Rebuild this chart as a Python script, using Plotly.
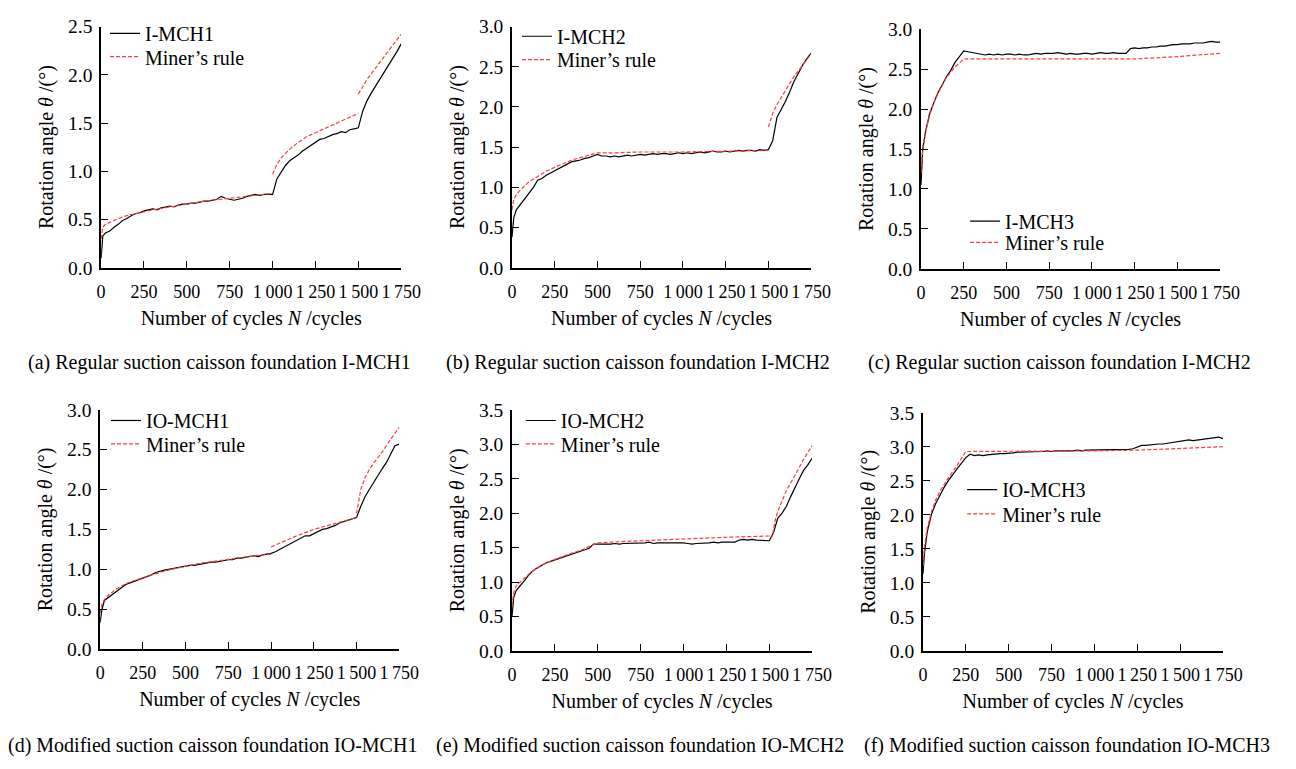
import plotly.graph_objects as go

W, H = 1296, 769
FONT = "Liberation Serif"

# ---- common cycle grid for measured series ----
N_GRID = [0, 5, 10] + list(range(25, 1751, 25))

# ---- measured rotation angles (deg) ----
I_MCH1 = [0.10, 0.28, 0.33,
          0.36, 0.38, 0.42, 0.45, 0.49, 0.51, 0.54, 0.56, 0.57, 0.59,
          0.60, 0.61, 0.60, 0.62, 0.63, 0.64, 0.63, 0.65, 0.66, 0.66,
          0.67, 0.67, 0.68, 0.69, 0.69, 0.70, 0.71, 0.74, 0.72, 0.71,
          0.70, 0.71, 0.72, 0.74, 0.75, 0.76, 0.75, 0.76, 0.76, 0.76,
          0.92, 0.99, 1.06, 1.11, 1.14, 1.17, 1.21, 1.24, 1.27, 1.30,
          1.33, 1.34, 1.36, 1.38, 1.39, 1.41, 1.40, 1.43, 1.44, 1.45,
          1.62, 1.73, 1.81, 1.88, 1.96, 2.03, 2.10, 2.16, 2.24, 2.32]
I_MCH2 = [0.38, 0.55, 0.62,
          0.72, 0.79, 0.86, 0.93, 1.00, 1.09, 1.11, 1.15, 1.18, 1.21,
          1.24, 1.27, 1.29, 1.32, 1.33, 1.34, 1.36, 1.37, 1.39, 1.41,
          1.39, 1.39, 1.38, 1.39, 1.38, 1.39, 1.40, 1.39, 1.40, 1.41,
          1.40, 1.41, 1.42, 1.41, 1.42, 1.42, 1.41, 1.42, 1.43, 1.42,
          1.43, 1.42, 1.43, 1.44, 1.43, 1.44, 1.45, 1.44, 1.44, 1.45,
          1.44, 1.45, 1.46, 1.45, 1.46, 1.46, 1.45, 1.47, 1.46, 1.47,
          1.58, 1.87, 1.97, 2.07, 2.19, 2.32, 2.42, 2.52, 2.60, 2.67]
I_MCH3 = [1.05, 1.30, 1.49,
          1.70, 1.94, 2.08, 2.21, 2.31, 2.41, 2.49, 2.59, 2.66, 2.73,
          2.72, 2.71, 2.70, 2.69, 2.68, 2.69, 2.68, 2.69, 2.68, 2.69,
          2.69, 2.68, 2.69, 2.68, 2.68, 2.69, 2.70, 2.69, 2.70, 2.70,
          2.70, 2.71, 2.70, 2.69, 2.70, 2.69, 2.69, 2.70, 2.70, 2.69,
          2.70, 2.71, 2.70, 2.70, 2.71, 2.70, 2.70, 2.70, 2.76, 2.77,
          2.76, 2.77, 2.77, 2.78, 2.78, 2.79, 2.79, 2.80, 2.81, 2.81,
          2.82, 2.82, 2.82, 2.83, 2.83, 2.83, 2.84, 2.85, 2.84, 2.84]
IO_MCH1 = [0.33, 0.44, 0.49,
           0.61, 0.65, 0.69, 0.73, 0.77, 0.81, 0.83, 0.85, 0.87, 0.89,
           0.91, 0.93, 0.96, 0.98, 0.99, 1.00, 1.01, 1.02, 1.03, 1.04,
           1.05, 1.05, 1.06, 1.07, 1.08, 1.09, 1.09, 1.10, 1.11, 1.12,
           1.12, 1.14, 1.14, 1.15, 1.16, 1.17, 1.16, 1.18, 1.19, 1.20,
           1.22, 1.25, 1.28, 1.30, 1.33, 1.36, 1.39, 1.42, 1.42, 1.45,
           1.48, 1.50, 1.51, 1.53, 1.55, 1.58, 1.60, 1.62, 1.64, 1.65,
           1.79, 1.91, 2.00, 2.09, 2.17, 2.26, 2.34, 2.44, 2.55, 2.57]
IO_MCH2 = [0.50, 0.70, 0.78,
           0.88, 0.95, 1.03, 1.11, 1.17, 1.21, 1.25, 1.28, 1.30, 1.32,
           1.35, 1.37, 1.38, 1.40, 1.42, 1.44, 1.47, 1.49, 1.55, 1.55,
           1.54, 1.55, 1.55, 1.56, 1.55, 1.56, 1.56, 1.57, 1.56, 1.57,
           1.57, 1.58, 1.56, 1.57, 1.57, 1.58, 1.58, 1.57, 1.57, 1.57,
           1.56, 1.55, 1.56, 1.56, 1.57, 1.57, 1.58, 1.57, 1.58, 1.58,
           1.59, 1.58, 1.61, 1.62, 1.61, 1.62, 1.61, 1.61, 1.60, 1.60,
           1.72, 1.93, 2.00, 2.10, 2.24, 2.38, 2.50, 2.62, 2.70, 2.80]
IO_MCH3 = [1.13, 1.30, 1.46,
           1.75, 2.01, 2.17, 2.30, 2.41, 2.51, 2.60, 2.68, 2.76, 2.84,
           2.89, 2.87, 2.88, 2.87, 2.88, 2.89, 2.89, 2.90, 2.90, 2.90,
           2.91, 2.92, 2.92, 2.92, 2.93, 2.92, 2.93, 2.93, 2.94, 2.93,
           2.94, 2.94, 2.93, 2.94, 2.94, 2.95, 2.94, 2.95, 2.95, 2.95,
           2.95, 2.96, 2.95, 2.96, 2.96, 2.95, 2.96, 2.96, 2.97, 3.00,
           3.02, 3.02, 3.03, 3.03, 3.04, 3.04, 3.05, 3.07, 3.08, 3.08,
           3.09, 3.10, 3.09, 3.10, 3.11, 3.11, 3.12, 3.13, 3.14, 3.12]

# ---- Miner's rule predictions (segments separated by None) ----
MINER1_N = [0, 5, 10, 25, 50, 100, 150, 200, 250, 300, 400, 500, 600, 700, 800, 900, 1000, None,
            1000, 1025, 1050, 1100, 1150, 1200, 1250, 1300, 1350, 1400, 1450, 1500, None,
            1500, 1525, 1550, 1600, 1650, 1700, 1750]
MINER1_T = [0.30, 0.38, 0.42, 0.45, 0.47, 0.51, 0.54, 0.56, 0.58, 0.60, 0.63, 0.66, 0.69, 0.71, 0.73, 0.75, 0.77, None,
            0.97, 1.07, 1.14, 1.23, 1.30, 1.36, 1.40, 1.44, 1.48, 1.52, 1.56, 1.60, None,
            1.80, 1.88, 1.95, 2.07, 2.19, 2.31, 2.42]
MINER2_N = [0, 5, 10, 25, 50, 100, 150, 200, 250, 300, 350, 400, 450, 500, 600, 750, 1000, 1250, 1500, None,
            1500, 1525, 1550, 1600, 1650, 1700, 1750]
MINER2_T = [0.72, 0.80, 0.85, 0.91, 0.97, 1.07, 1.14, 1.20, 1.25, 1.30, 1.34, 1.37, 1.40, 1.43, 1.43, 1.44, 1.44, 1.45, 1.46, None,
            1.75, 1.92, 2.03, 2.21, 2.38, 2.52, 2.66]
MINER3_N = [0, 5, 10, 25, 50, 75, 100, 150, 200, 250, 500, 750, 1000, 1250, 1500, 1750]
MINER3_T = [1.20, 1.38, 1.50, 1.70, 1.92, 2.08, 2.20, 2.40, 2.53, 2.63, 2.63, 2.63, 2.63, 2.63, 2.66, 2.70]
MINER4_N = [0, 5, 10, 25, 50, 100, 150, 200, 250, 300, 400, 500, 600, 700, 800, 900, 1000, None,
            1000, 1050, 1100, 1150, 1200, 1250, 1300, 1350, 1400, 1450, 1500, None,
            1500, 1525, 1550, 1575, 1600, 1650, 1700, 1750]
MINER4_T = [0.45, 0.52, 0.56, 0.62, 0.68, 0.76, 0.82, 0.86, 0.90, 0.93, 0.99, 1.04, 1.08, 1.11, 1.14, 1.17, 1.19, None,
            1.28, 1.33, 1.38, 1.42, 1.46, 1.50, 1.53, 1.56, 1.59, 1.62, 1.65, None,
            1.70, 2.00, 2.15, 2.25, 2.33, 2.47, 2.63, 2.78]
MINER5_N = [0, 5, 10, 25, 50, 100, 150, 200, 250, 300, 350, 400, 450, 500, 750, 1000, 1250, 1520, None,
            1520, 1535, 1550, 1575, 1600, 1650, 1700, 1750]
MINER5_T = [0.65, 0.78, 0.85, 0.95, 1.01, 1.12, 1.21, 1.28, 1.33, 1.38, 1.42, 1.46, 1.51, 1.57, 1.60, 1.63, 1.65, 1.67, None,
            1.70, 1.90, 2.03, 2.18, 2.33, 2.55, 2.78, 2.98]
MINER6_N = [0, 5, 10, 25, 50, 75, 100, 150, 200, 250, 500, 750, 1000, 1250, 1500, 1750]
MINER6_T = [1.25, 1.42, 1.55, 1.80, 2.05, 2.22, 2.35, 2.55, 2.73, 2.93, 2.93, 2.94, 2.94, 2.95, 2.97, 3.00]

# ---- tick labels ----
X_TICKS = [0, 250, 500, 750, 1000, 1250, 1500, 1750]
X_TICKTEXT = ["0", "250", "500", "750", "1\u2009000", "1\u2009250", "1\u2009500", "1\u2009750"]

NAMES = ["I-MCH1", "I-MCH2", "I-MCH3", "IO-MCH1", "IO-MCH2", "IO-MCH3"]
MEASURED = [I_MCH1, I_MCH2, I_MCH3, IO_MCH1, IO_MCH2, IO_MCH3]
MINER = [(MINER1_N, MINER1_T), (MINER2_N, MINER2_T), (MINER3_N, MINER3_T),
         (MINER4_N, MINER4_T), (MINER5_N, MINER5_T), (MINER6_N, MINER6_T)]
Y_MAX = [2.5, 3.0, 3.0, 3.0, 3.5, 3.5]
CAPTIONS = ["(a) Regular suction caisson foundation I-MCH1",
            "(b) Regular suction caisson foundation I-MCH2",
            "(c) Regular suction caisson foundation I-MCH2",
            "(d) Modified suction caisson foundation IO-MCH1",
            "(e) Modified suction caisson foundation IO-MCH2",
            "(f) Modified suction caisson foundation IO-MCH3"]

# ---- layout (pixel boxes of plot areas) ----
BOXES = [(98, 404, 17, 265), (517, 822, 17, 265), (934, 1239, 20, 266),
         (97, 402, 411, 657), (517, 823, 411, 659), (936, 1242, 414, 659)]
# legend anchor (left x, centre y of first item, centre y of second item)
LEGEND_POS = [(102, 24, 48), (522, 27, 51), (979, 217, 239),
              (103, 422, 446), (526, 422, 446), (976, 493, 518)]
CAPTION_POS = [(219, 362), (645, 362), (1075, 362), (212, 756), (647, 756), (1083, 756)]

TXT = 20
XTICK = 18
YTICK = 19.5

fig = go.Figure()
layout = dict(
    width=W, height=H, margin=dict(l=0, r=0, t=0, b=0),
    paper_bgcolor="white", plot_bgcolor="white",
    font=dict(family=FONT, size=TXT, color="black"),
    annotations=[], showlegend=True,
)

for i in range(6):
    sfx = "" if i == 0 else str(i + 1)
    xa, ya = "x" + sfx, "y" + sfx
    leg_a = "legend" + ("" if i == 0 else str(2 * i + 1))
    leg_b = "legend" + str(2 * i + 2)
    fig.add_trace(go.Scatter(x=N_GRID, y=MEASURED[i], mode="lines", name=NAMES[i],
                             line=dict(color="black", width=1.2), xaxis=xa, yaxis=ya,
                             legend=leg_a))
    fig.add_trace(go.Scatter(x=MINER[i][0], y=MINER[i][1], mode="lines", name="Miner\u2019s rule",
                             line=dict(color="#ff3b3b", width=1.2, dash="4px,2px"), xaxis=xa, yaxis=ya,
                             legend=leg_b, connectgaps=False))
    x0, x1, y0, y1 = BOXES[i]
    layout["xaxis" + sfx] = dict(
        domain=[x0 / W, x1 / W], anchor=ya, range=[0, 1750],
        tickvals=X_TICKS, ticktext=X_TICKTEXT,
        showline=True, linecolor="black", linewidth=1.6, mirror=False,
        ticks="inside", ticklen=7, tickwidth=1.2, tickcolor="black",
        showgrid=False, zeroline=False, ticklabelstandoff=7,
        tickfont=dict(family=FONT, size=XTICK),
        title=dict(text="Number of cycles <i>N</i> /cycles", font=dict(family=FONT, size=TXT), standoff=10),
    )
    layout["yaxis" + sfx] = dict(
        domain=[1 - y1 / H, 1 - y0 / H], anchor=xa, range=[0, Y_MAX[i]],
        dtick=0.5, tickformat=".1f",
        showline=True, linecolor="black", linewidth=1.6, mirror=False,
        ticks="inside", ticklen=7, tickwidth=1.2, tickcolor="black",
        showgrid=False, zeroline=False, ticklabelstandoff=3,
        tickfont=dict(family=FONT, size=YTICK),
        title=dict(text="Rotation angle <i>\u03b8</i> /(\u00b0)", font=dict(family=FONT, size=TXT), standoff=9),
    )
    lx, lya, lyb = LEGEND_POS[i]
    for leg, ly in ((leg_a, lya), (leg_b, lyb)):
        layout[leg] = dict(x=lx / W, y=1 - ly / H, xanchor="left", yanchor="middle",
                           bgcolor="rgba(0,0,0,0)", borderwidth=0,
                           font=dict(family=FONT, size=TXT), itemwidth=30)
    cx, cy = CAPTION_POS[i]
    layout["annotations"].append(dict(text=CAPTIONS[i], x=cx / W, y=1 - cy / H,
                                      xref="paper", yref="paper", xanchor="center", yanchor="middle",
                                      showarrow=False, font=dict(family=FONT, size=TXT)))

fig.update_layout(**layout)
fig.write_html("out.html")
